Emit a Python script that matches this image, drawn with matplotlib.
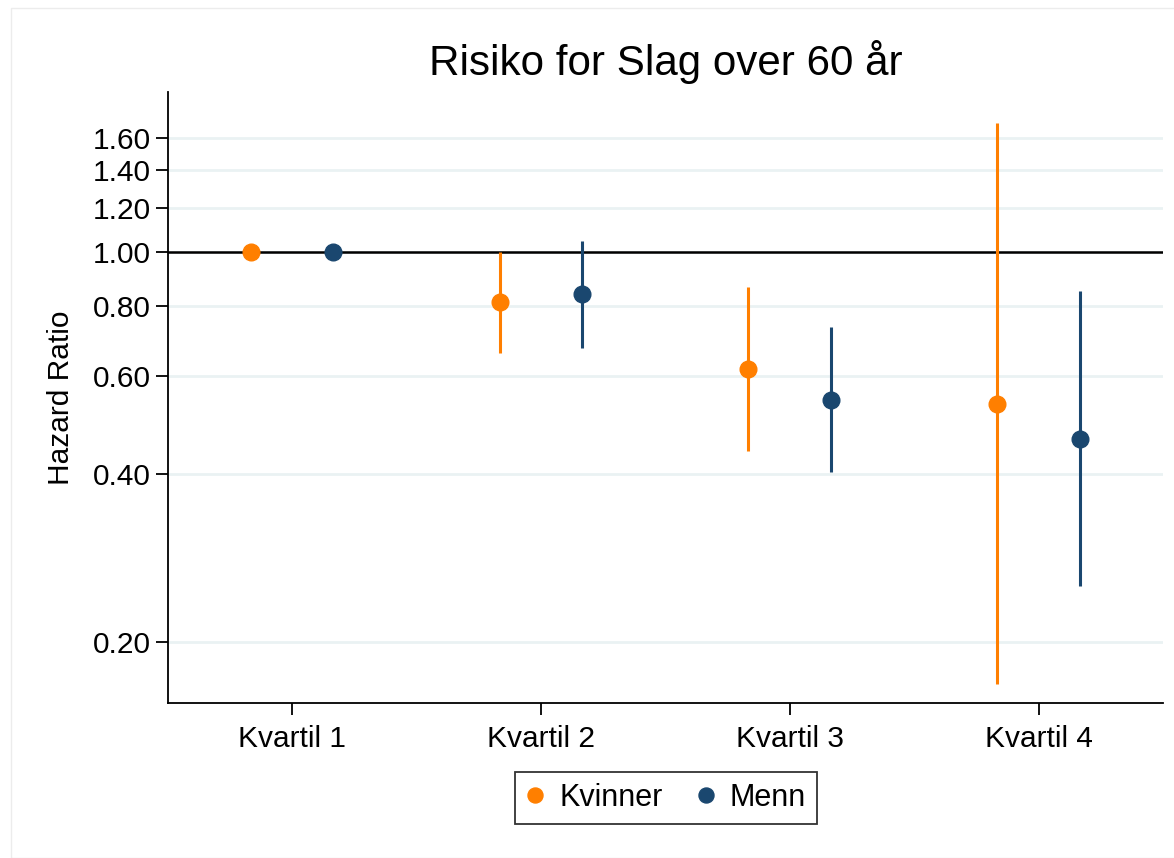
import numpy as np
import matplotlib.pyplot as plt
from matplotlib.patches import Rectangle

plt.rcParams['font.family'] = ['Liberation Sans', 'DejaVu Sans']

categories = ["Kvartil 1", "Kvartil 2", "Kvartil 3", "Kvartil 4"]
yticks = [0.20, 0.40, 0.60, 0.80, 1.00, 1.20, 1.40, 1.60]

# hazard ratios with 95% CI
kvinner_hr = [1.00, 0.813, 0.617, 0.534]
kvinner_lo = [1.00, 0.659, 0.440, 0.168]
kvinner_hi = [1.00, 1.000, 0.866, 1.700]

menn_hr = [1.00, 0.841, 0.543, 0.462]
menn_lo = [1.00, 0.673, 0.403, 0.252]
menn_hi = [1.00, 1.046, 0.734, 0.851]

orange = "#ff7f00"
navy = "#1a476f"
grid_col = "#eaf2f3"

W, H = 1174, 858
fig = plt.figure(figsize=(W / 100, H / 100), dpi=100)
fig.patches.append(Rectangle((11 / W, 0), 1, 1 - 8 / H, transform=fig.transFigure,
                             fill=False, edgecolor="#ececec", linewidth=1))

ax = fig.add_axes([168 / W, 1 - 703 / H, (1163 - 168) / W, (703 - 92) / H])
ax.set_yscale("log")

x = np.arange(1, len(categories) + 1)
off = 0.166

for yt in yticks:
    ax.axhline(yt, color=grid_col, linewidth=2, zorder=0)
ax.axhline(1.0, color="black", linewidth=1.8, zorder=1)

ax.vlines(x - off, kvinner_lo, kvinner_hi, color=orange, linewidth=2.2, zorder=2)
ax.vlines(x + off, menn_lo, menn_hi, color=navy, linewidth=2.2, zorder=2)
ax.plot(x - off, kvinner_hr, "o", color=orange, markersize=12, linestyle="none",
        label="Kvinner", zorder=3)
ax.plot(x + off, menn_hr, "o", color=navy, markersize=12, linestyle="none",
        label="Menn", zorder=3)

ax.set_xlim(0.502, 4.5)
ax.set_ylim(0.1555, 1.935)
ax.set_xticks(x)
ax.set_xticklabels(categories)
ax.set_yticks(yticks)
ax.set_yticklabels([f"{v:.2f}" for v in yticks])
ax.yaxis.set_minor_locator(plt.NullLocator())
ax.tick_params(axis="both", direction="out", length=8.6, width=1.3, labelsize=21.5,
               color="black", pad=4)
ax.tick_params(axis="x", pad=7)

for s in ["top", "right"]:
    ax.spines[s].set_visible(False)
for s in ["left", "bottom"]:
    ax.spines[s].set_linewidth(1.3)

ax.set_title("Risiko for Slag over 60 år", fontsize=30.3, pad=12)
fig.text(61 / W, 1 - 398 / H, "Hazard Ratio", rotation=90, fontsize=21.5,
         ha="center", va="center")

leg = fig.legend(loc="center", bbox_to_anchor=(666 / W, 1 - 798 / H), ncol=2,
                 fontsize=22, frameon=True, fancybox=False, edgecolor="black",
                 handletextpad=0.5, columnspacing=1.1, borderpad=0.35,
                 handlelength=0.6, markerscale=0.9)
leg.get_frame().set_linewidth(1.3)

fig.savefig("out.png", dpi=100)
